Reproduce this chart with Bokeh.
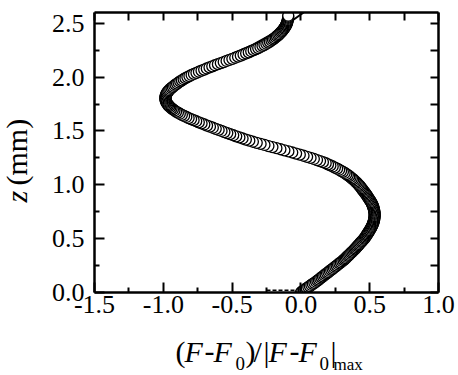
import math
from bokeh.plotting import figure
from bokeh.layouts import row, column
from bokeh.models import Range1d, LinearAxis, FixedTicker, PrintfTickFormatter, ColumnDataSource
from bokeh.core.properties import value
from bokeh.embed import file_html
from bokeh.resources import INLINE

# ---------------- data ----------------
Z_DATA = [
    0.00, 0.01, 0.02, 0.03, 0.04, 0.05, 0.06, 0.07, 0.08, 0.09,
    0.10, 0.11, 0.12, 0.13, 0.14, 0.15, 0.16, 0.17, 0.18, 0.19,
    0.20, 0.21, 0.22, 0.23, 0.24, 0.25, 0.26, 0.27, 0.28, 0.29,
    0.30, 0.31, 0.32, 0.33, 0.34, 0.35, 0.36, 0.37, 0.38, 0.39,
    0.40, 0.41, 0.42, 0.43, 0.44, 0.45, 0.46, 0.47, 0.48, 0.49,
    0.50, 0.51, 0.52, 0.53, 0.54, 0.55, 0.56, 0.57, 0.58, 0.59,
    0.60, 0.61, 0.62, 0.63, 0.64, 0.65, 0.66, 0.67, 0.68, 0.69,
    0.70, 0.71, 0.72, 0.73, 0.74, 0.75, 0.76, 0.77, 0.78, 0.79,
    0.80, 0.81, 0.82, 0.83, 0.84, 0.85, 0.86, 0.87, 0.88, 0.89,
    0.90, 0.91, 0.92, 0.93, 0.94, 0.95, 0.96, 0.97, 0.98, 0.99,
    1.00, 1.01, 1.02, 1.03, 1.04, 1.05, 1.06, 1.07, 1.08, 1.09,
    1.10, 1.11, 1.12, 1.13, 1.14, 1.15, 1.16, 1.17, 1.18, 1.19,
    1.20, 1.21, 1.22, 1.23, 1.24, 1.25, 1.26, 1.27, 1.28, 1.29,
    1.30, 1.31, 1.32, 1.33, 1.34, 1.35, 1.36, 1.37, 1.38, 1.39,
    1.40, 1.41, 1.42, 1.43, 1.44, 1.45, 1.46, 1.47, 1.48, 1.49,
    1.50, 1.51, 1.52, 1.53, 1.54, 1.55, 1.56, 1.57, 1.58, 1.59,
    1.60, 1.61, 1.62, 1.63, 1.64, 1.65, 1.66, 1.67, 1.68, 1.69,
    1.70, 1.71, 1.72, 1.73, 1.74, 1.75, 1.76, 1.77, 1.78, 1.79,
    1.80, 1.81, 1.82, 1.83, 1.84, 1.85, 1.86, 1.87, 1.88, 1.89,
    1.90, 1.91, 1.92, 1.93, 1.94, 1.95, 1.96, 1.97, 1.98, 1.99,
    2.00, 2.01, 2.02, 2.03, 2.04, 2.05, 2.06, 2.07, 2.08, 2.09,
    2.10, 2.11, 2.12, 2.13, 2.14, 2.15, 2.16, 2.17, 2.18, 2.19,
    2.20, 2.21, 2.22, 2.23, 2.24, 2.25, 2.26, 2.27, 2.28, 2.29,
    2.30, 2.31, 2.32, 2.33, 2.34, 2.35, 2.36, 2.37, 2.38, 2.39,
    2.40, 2.41, 2.42, 2.43, 2.44, 2.45, 2.46, 2.47, 2.48, 2.49,
    2.50, 2.51, 2.52, 2.53, 2.54, 2.55, 2.56, 2.57,
]
X_DATA = [
    0.000, 0.010, 0.021, 0.032, 0.043, 0.054, 0.065, 0.076, 0.087, 0.098,
    0.110, 0.120, 0.130, 0.140, 0.150, 0.160, 0.170, 0.180, 0.190, 0.200,
    0.210, 0.220, 0.230, 0.240, 0.250, 0.260, 0.270, 0.280, 0.290, 0.300,
    0.310, 0.318, 0.326, 0.334, 0.342, 0.350, 0.358, 0.366, 0.374, 0.382,
    0.390, 0.397, 0.404, 0.411, 0.418, 0.425, 0.432, 0.439, 0.446, 0.453,
    0.460, 0.466, 0.471, 0.476, 0.481, 0.486, 0.491, 0.496, 0.501, 0.506,
    0.510, 0.514, 0.518, 0.521, 0.524, 0.527, 0.529, 0.531, 0.533, 0.534,
    0.535, 0.536, 0.536, 0.536, 0.535, 0.534, 0.533, 0.531, 0.529, 0.527,
    0.525, 0.522, 0.518, 0.514, 0.510, 0.505, 0.500, 0.495, 0.490, 0.485,
    0.480, 0.475, 0.469, 0.463, 0.457, 0.451, 0.445, 0.439, 0.433, 0.427,
    0.420, 0.413, 0.405, 0.397, 0.389, 0.380, 0.371, 0.361, 0.351, 0.341,
    0.330, 0.318, 0.305, 0.292, 0.278, 0.263, 0.247, 0.231, 0.214, 0.197,
    0.180, 0.160, 0.139, 0.117, 0.094, 0.070, 0.045, 0.019, -0.008, -0.035,
    -0.063, -0.091, -0.120, -0.149, -0.178, -0.207, -0.236, -0.265, -0.293, -0.321,
    -0.349, -0.375, -0.400, -0.424, -0.447, -0.470, -0.492, -0.514, -0.535, -0.556,
    -0.577, -0.598, -0.619, -0.640, -0.661, -0.682, -0.702, -0.722, -0.742, -0.761,
    -0.780, -0.798, -0.816, -0.833, -0.849, -0.865, -0.880, -0.894, -0.907, -0.919,
    -0.930, -0.940, -0.949, -0.957, -0.964, -0.970, -0.975, -0.979, -0.982, -0.984,
    -0.985, -0.985, -0.984, -0.982, -0.979, -0.975, -0.970, -0.964, -0.957, -0.949,
    -0.940, -0.931, -0.921, -0.911, -0.900, -0.889, -0.877, -0.865, -0.852, -0.839,
    -0.825, -0.810, -0.794, -0.777, -0.759, -0.741, -0.722, -0.703, -0.684, -0.664,
    -0.644, -0.624, -0.603, -0.582, -0.561, -0.540, -0.519, -0.498, -0.477, -0.457,
    -0.437, -0.417, -0.398, -0.379, -0.361, -0.343, -0.326, -0.310, -0.294, -0.279,
    -0.265, -0.251, -0.238, -0.226, -0.214, -0.203, -0.193, -0.183, -0.174, -0.165,
    -0.157, -0.149, -0.142, -0.135, -0.129, -0.123, -0.118, -0.113, -0.109, -0.105,
    -0.102, -0.099, -0.097, -0.095, -0.094, -0.093, -0.092, -0.092,
]

# model / fit curve
Z_FIT = [0.0, 0.1, 0.2, 0.3, 0.4, 0.5, 0.6, 0.7, 0.8, 0.9, 1.0, 1.1, 1.2, 1.3,
         1.4, 1.5, 1.6, 1.7, 1.75, 1.8, 1.85, 1.9, 2.0, 2.1, 2.2, 2.3, 2.4, 2.5, 2.6]
X_FIT = [0.00, 0.11, 0.21, 0.31, 0.39, 0.46, 0.51, 0.535, 0.525, 0.48, 0.42, 0.33,
         0.18, -0.06, -0.35, -0.58, -0.78, -0.93, -0.97, -0.99, -0.985, -0.96,
         -0.88, -0.72, -0.53, -0.35, -0.21, -0.09, 0.02]

# short dashed segment near z = 0
Z_DASH = [0.02, 0.02]
X_DASH = [-0.25, -0.02]

X_RANGE = (-1.5, 1.0)
Y_RANGE = (0.0, 2.6)
X_TICKS = [-1.5, -1.0, -0.5, 0.0, 0.5, 1.0]
X_MINOR = [-1.25, -0.75, -0.25, 0.25, 0.75]
Y_TICKS = [0.0, 0.5, 1.0, 1.5, 2.0, 2.5]
Y_MINOR = [0.25, 0.75, 1.25, 1.75, 2.25]

FONT = "Liberation Serif"

# ---------------- layout sizes (px) ----------------
YLAB_W = 48
BORDER_L, FRAME_W, BORDER_R = 46, 344, 18
BORDER_T, FRAME_H, BORDER_B = 12, 280, 38
MAIN_H = BORDER_T + FRAME_H + BORDER_B
XLAB_H = 44
TOTAL_H = MAIN_H + XLAB_H
FRAME_X0 = YLAB_W + BORDER_L          # page x of the frame's left edge
XLAB_FRAME_W = FRAME_W + BORDER_R

# ---------------- main figure ----------------
p = figure(output_backend="svg", toolbar_location=None,
           frame_width=FRAME_W, frame_height=FRAME_H,
           min_border_left=BORDER_L, min_border_right=BORDER_R,
           min_border_top=BORDER_T, min_border_bottom=BORDER_B,
           x_range=Range1d(*X_RANGE), y_range=Range1d(*Y_RANGE),
           x_axis_location=None, y_axis_location=None)
p.grid.visible = False
p.outline_line_color = None
p.background_fill_color = "white"
p.border_fill_color = "white"

fmt = PrintfTickFormatter(format="%.1f")


def style_axis(ax, labels, major_len, minor_len, ticks):
    ax.axis_line_color = "black"
    ax.axis_line_width = 2.5
    ax.major_tick_line_color = "black"
    ax.minor_tick_line_color = "black"
    ax.major_tick_line_width = 2
    ax.minor_tick_line_width = 2
    ax.major_tick_in = major_len
    ax.major_tick_out = 0
    ax.minor_tick_in = minor_len
    ax.minor_tick_out = 0
    if labels:
        ax.major_label_text_font = FONT
        ax.major_label_text_font_size = "26px"
        ax.major_label_text_color = "black"
    else:
        ax.major_label_overrides = {t: "" for t in ticks}
        ax.major_label_text_font_size = "1px"
        ax.major_label_standoff = 0


xb = LinearAxis(ticker=FixedTicker(ticks=X_TICKS, minor_ticks=X_MINOR), formatter=fmt)
style_axis(xb, True, 10, 5, X_TICKS)
xb.major_label_standoff = 3
p.add_layout(xb, "below")

yl = LinearAxis(ticker=FixedTicker(ticks=Y_TICKS, minor_ticks=Y_MINOR), formatter=fmt)
style_axis(yl, True, 10, 5, Y_TICKS)
yl.major_label_standoff = 10
p.add_layout(yl, "left")

xt = LinearAxis(ticker=FixedTicker(ticks=X_TICKS, minor_ticks=X_MINOR))
style_axis(xt, False, 8, 8, X_TICKS)
p.add_layout(xt, "above")

yr = LinearAxis(ticker=FixedTicker(ticks=Y_TICKS, minor_ticks=Y_MINOR))
style_axis(yr, False, 8, 8, Y_TICKS)
p.add_layout(yr, "right")

p.line(X_FIT, Z_FIT, line_color="black", line_width=2)
p.line(X_DASH, Z_DASH, line_color="black", line_width=1.5, line_dash="4 2")
src = ColumnDataSource(dict(x=X_DATA, z=Z_DATA))
p.scatter("x", "z", source=src, marker="circle", size=11,
          fill_color="white", line_color="black", line_width=1.3)


# ---------------- title panels (pixel coordinate figures) ----------------
def blank(w, h, xr, yr):
    f = figure(output_backend="svg", toolbar_location=None,
               frame_width=w, frame_height=h,
               x_range=Range1d(*xr), y_range=Range1d(*yr),
               min_border=0, x_axis_location=None, y_axis_location=None)
    f.grid.visible = False
    f.outline_line_color = None
    f.background_fill_color = "white"
    f.border_fill_color = "white"
    return f


# x title panel: its frame is aligned with the main frame (page x FRAME_X0 ...)
xlab = blank(XLAB_FRAME_W, XLAB_H, (FRAME_X0, FRAME_X0 + XLAB_FRAME_W), (TOTAL_H, MAIN_H))
# y title panel: page x 0..YLAB_W, page y 0..TOTAL_H
ylab = blank(YLAB_W, TOTAL_H, (0, YLAB_W), (TOTAL_H, 0))

SHIFT = 0.3  # anchor-to-baseline shift, as a fraction of the font size


def piece(f, text, px, base, size, style="normal", angle=0.0):
    if angle == 0.0:
        ax, ay = px, base - SHIFT * size
    else:
        ax, ay = base - SHIFT * size, px
    f.text(x=[ax], y=[ay], text=[text], text_font=value(FONT),
           text_font_size=value(f"{size}px"), text_font_style=style,
           text_color="black", text_align="left", text_baseline="alphabetic",
           angle=angle)


BASE = 360
SUB = 369
piece(xlab, "(", 175, BASE, 30)
piece(xlab, "F", 184, BASE, 30, "italic")
piece(xlab, "-", 204, BASE, 30)
piece(xlab, "F", 213, BASE, 30, "italic")
piece(xlab, "0", 235, SUB, 19)
piece(xlab, ")", 245, BASE, 30)
piece(xlab, "/", 253, BASE, 30)
piece(xlab, "|", 263, BASE, 30)
piece(xlab, "F", 268, BASE, 30, "italic")
piece(xlab, "-", 289, BASE, 30)
piece(xlab, "F", 298, BASE, 30, "italic")
piece(xlab, "0", 319, SUB, 19)
piece(xlab, "|", 330, BASE, 30)
piece(xlab, "max", 333, SUB, 17)

# rotated y title: "px" is the page y where the text starts, "base" the page x of its baseline
piece(ylab, "z", 202, 25, 30, "italic", angle=math.pi / 2)
piece(ylab, "(mm)", 185, 25, 30, "normal", angle=math.pi / 2)

layout = row(ylab, column(p, xlab, spacing=0), spacing=0)

open("out.html", "w").write(file_html(layout, INLINE))
